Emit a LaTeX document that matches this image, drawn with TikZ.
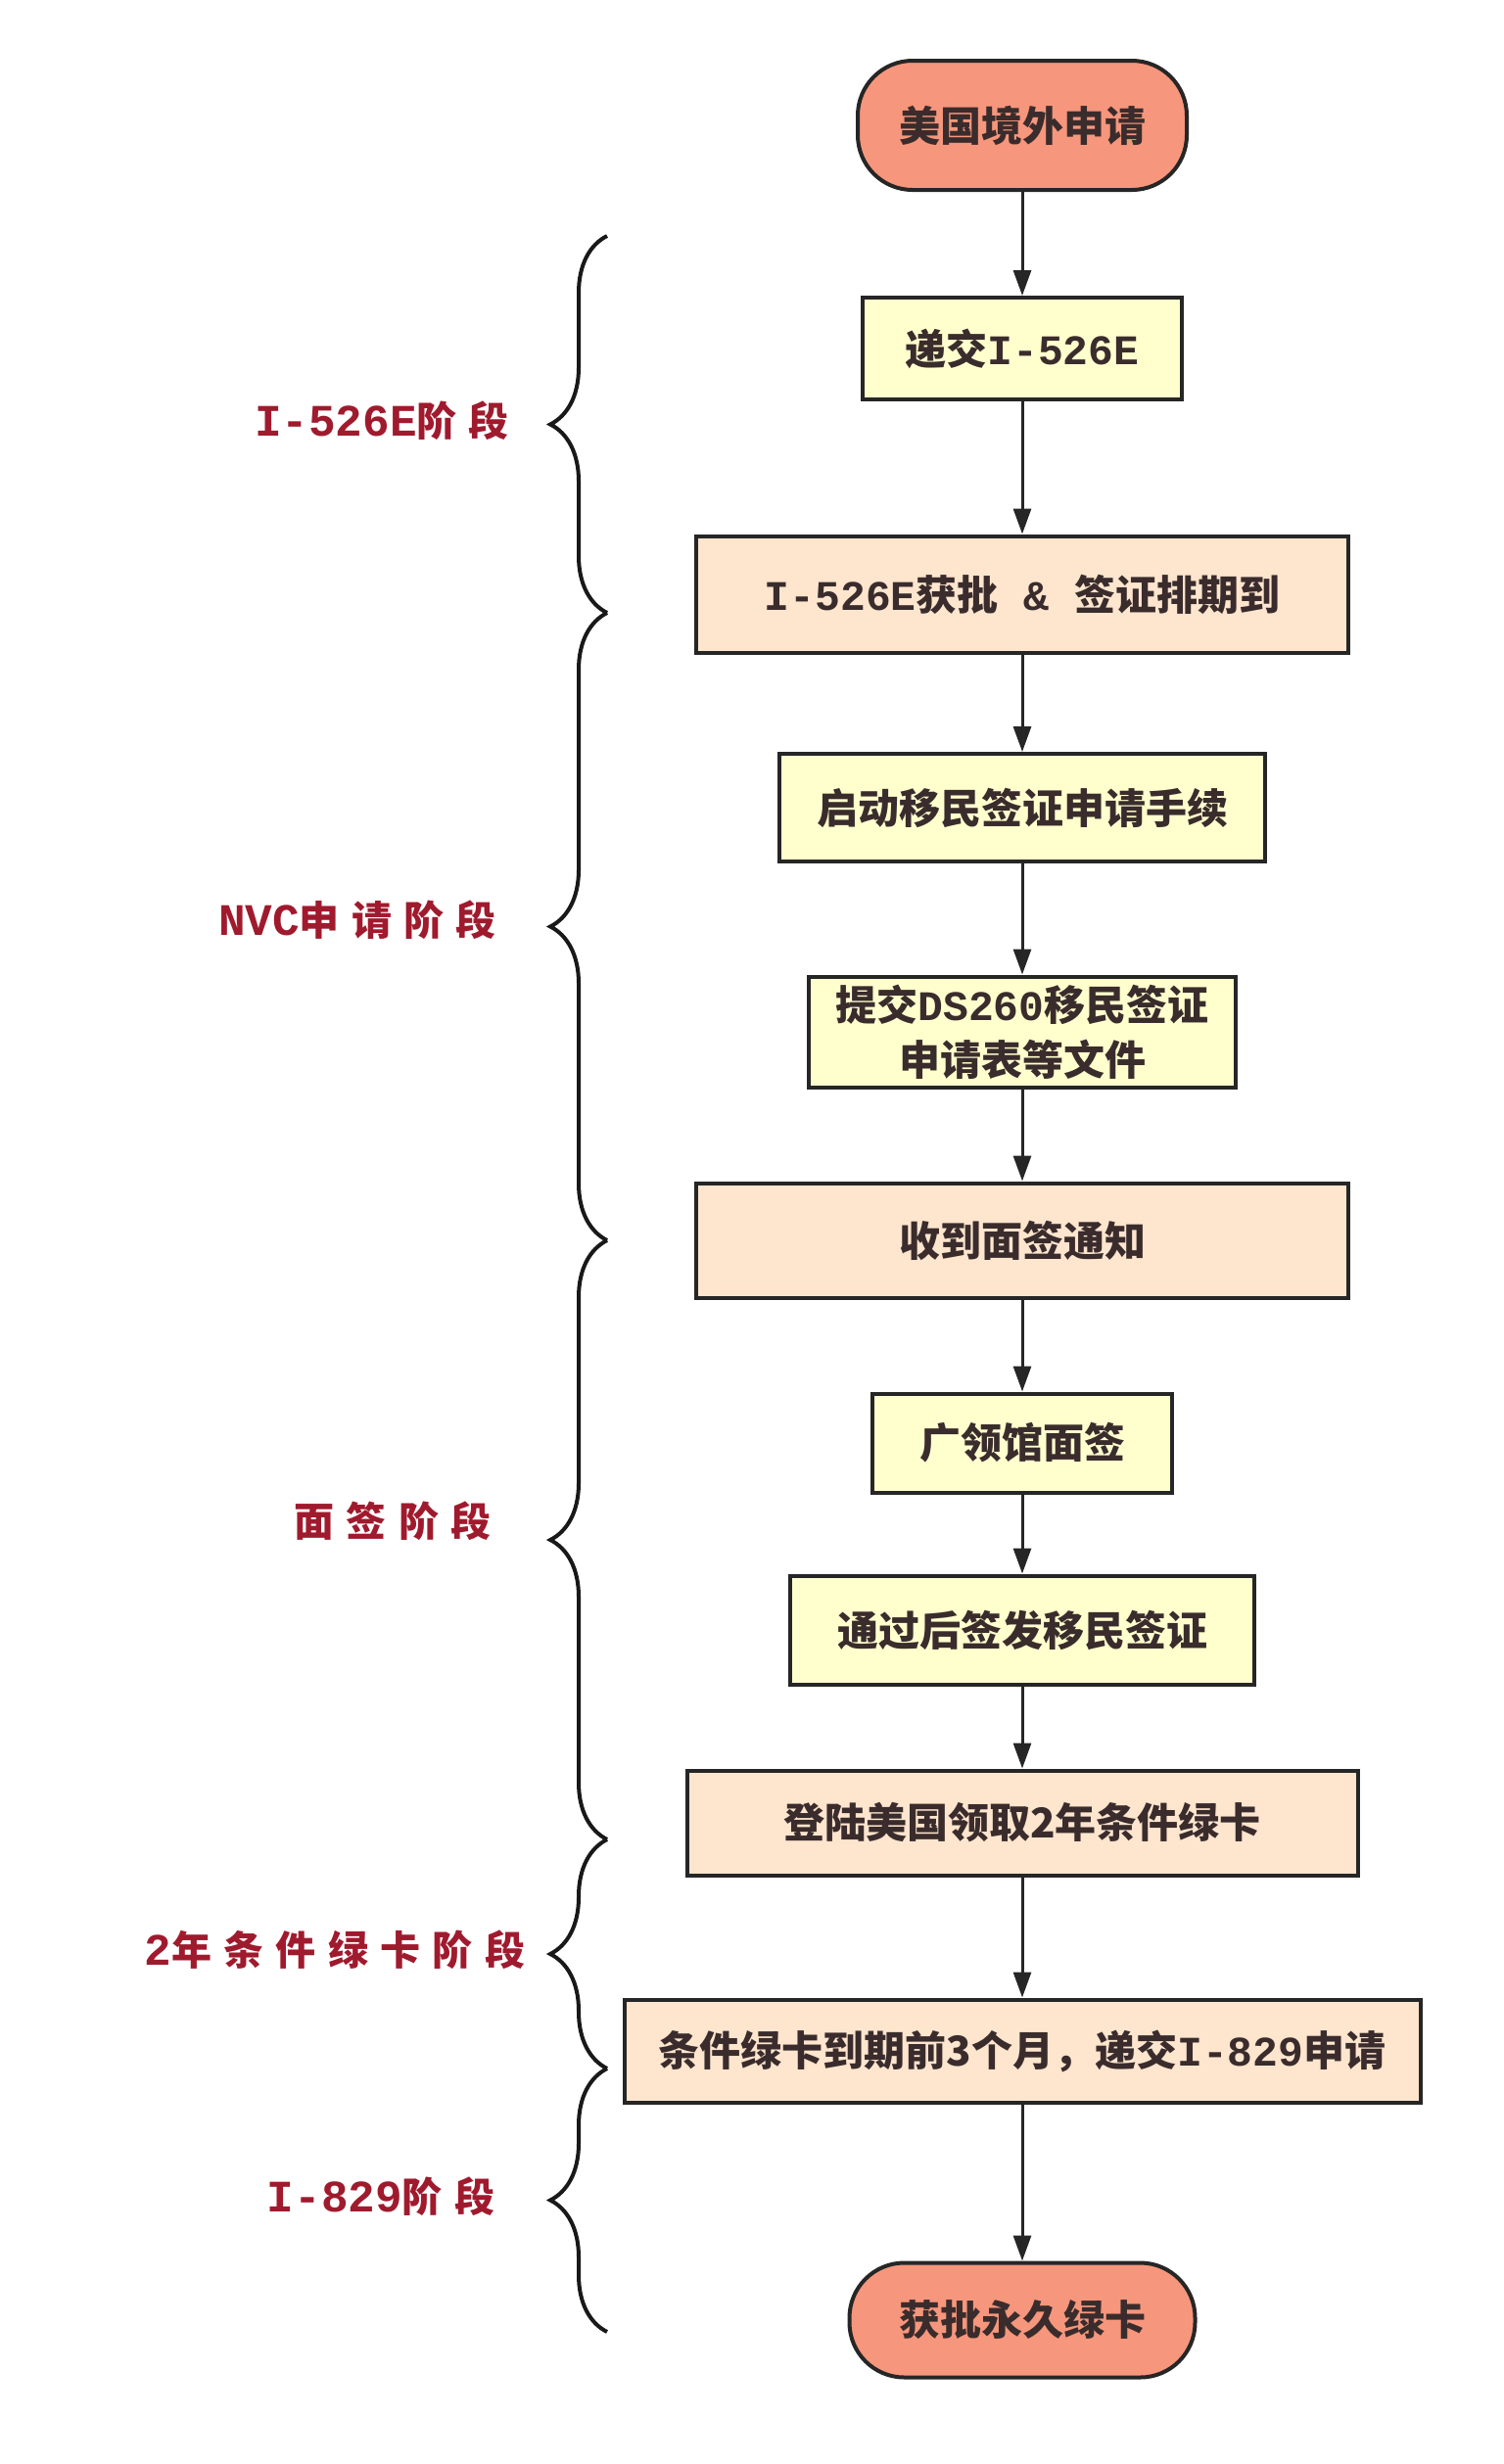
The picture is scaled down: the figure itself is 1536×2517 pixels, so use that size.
\documentclass[tikz,border=0pt]{standalone}
\usepackage{fontspec}
\setmainfont{Noto Sans CJK SC}
\newfontfamily\monof{Liberation Mono}
\usetikzlibrary{arrows.meta,decorations.pathreplacing}
\definecolor{salmon}{RGB}{246,150,124}
\definecolor{lyellow}{RGB}{255,255,206}
\definecolor{peach}{RGB}{253,229,206}
\definecolor{txt}{RGB}{58,44,44}
\definecolor{labred}{RGB}{160,26,46}
\newcommand{\lm}[1]{{\monof\bfseries\fontsize{21.5}{27}\selectfont #1}}
\newcommand{\boxfont}{\fontsize{21}{28}\selectfont\bfseries}
\newcommand{\labfont}{\fontsize{20.5}{24}\selectfont\bfseries\addfontfeatures{LetterSpace=30}}
\newcommand{\lmm}[1]{{\monof\bfseries\fontsize{23}{24}\selectfont #1}}
\begin{document}
\begin{tikzpicture}[x=0.5pt,y=-0.5pt,
  box/.style={draw=black!85, line width=2pt, text=txt, font=\boxfont, inner sep=0pt, align=center},
  term/.style={box, fill=salmon, rounded corners=28pt},
  ybox/.style={box, fill=lyellow},
  pbox/.style={box, fill=peach},
  arr/.style={draw=black!85, line width=1.5pt, -{Triangle[width=9pt,length=13pt]}},
  brc/.style={draw=black!90, line width=2pt, decorate, decoration={brace, amplitude=29pt}},
  lab/.style={text=labred, font=\labfont, inner sep=0pt}]
\fill[white] (0,0) rectangle (1536,2517);
\useasboundingbox (0,0) rectangle (1536,2517);

\node[term, minimum width=168pt, minimum height=66pt] (n1) at (1044,128) {美国境外申请};
\node[ybox, minimum width=163pt, minimum height=52pt] (n2) at (1044,356) {递交\lm{I-526E}};
\node[pbox, minimum width=333pt, minimum height=59.5pt] (n3) at (1044,607) {\lm{I-526E}获批\lm{ \& }签证排期到};
\node[ybox, minimum width=248pt, minimum height=55pt] (n4) at (1044,825) {启动移民签证申请手续};
\node[ybox, minimum width=218pt, minimum height=56.5pt] (n5) at (1044,1054) {提交\lm{DS260}移民签证\\申请表等文件};
\node[pbox, minimum width=333pt, minimum height=58.5pt] (n6) at (1044,1267) {收到面签通知};
\node[ybox, minimum width=153pt, minimum height=50.5pt] (n7) at (1044,1474) {广领馆面签};
\node[ybox, minimum width=237pt, minimum height=55.5pt] (n8) at (1044,1665) {通过后签发移民签证};
\node[pbox, minimum width=342.5pt, minimum height=53.5pt] (n9) at (1044,1862) {登陆美国领取2年条件绿卡};
\node[pbox, minimum width=406.5pt, minimum height=52.5pt] (n10) at (1044,2095) {条件绿卡到期前3个月，递交\lm{I-829}申请};
\node[term, minimum width=176.5pt, minimum height=58.5pt] (n11) at (1044,2370) {获批永久绿卡};

\draw[arr] (n1) -- (n2);
\draw[arr] (n2) -- (n3);
\draw[arr] (n3) -- (n4);
\draw[arr] (n4) -- (n5);
\draw[arr] (n5) -- (n6);
\draw[arr] (n6) -- (n7);
\draw[arr] (n7) -- (n8);
\draw[arr] (n8) -- (n9);
\draw[arr] (n9) -- (n10);
\draw[arr] (n10) -- (n11);

\coordinate (b0) at (620,241);
\coordinate (b1) at (620,626);
\coordinate (b2) at (620,1267);
\coordinate (b3) at (620,1879);
\coordinate (b4) at (620,2113);
\coordinate (b5) at (620,2382);
\draw[brc] (b1) -- (b0);
\draw[brc] (b2) -- (b1);
\draw[brc] (b3) -- (b2);
\draw[brc] (b4) -- (b3);
\draw[brc] (b5) -- (b4);

\node[lab] (l1) at (390,430) {\lmm{I-526E}阶段};
\node[lab] (l2) at (365,940) {\lmm{NVC}申请阶段};
\node[lab] (l3) at (401,1554) {面签阶段};
\node[lab] (l4) at (342,1992) {\lmm{2}年条件绿卡阶段};
\node[lab] (l5) at (389,2244) {\lmm{I-829}阶段};
\end{tikzpicture}
\end{document}
